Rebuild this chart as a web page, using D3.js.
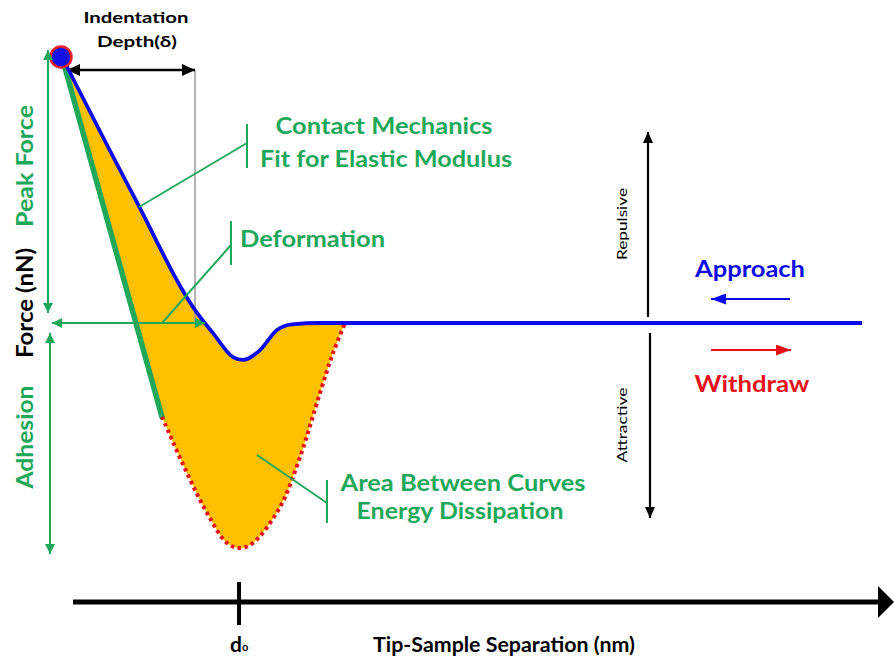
<!DOCTYPE html>
<html>
<head>
<meta charset="utf-8">
<script src="https://cdn.jsdelivr.net/npm/d3@7"></script>
<style>
  html, body { margin: 0; padding: 0; background: #ffffff; }
  svg { display: block; }
  text { font-family: Lato, "Open Sans", "DejaVu Sans", sans-serif; }
</style>
</head>
<body>
<svg id="chart" width="894" height="661"></svg>
<script>
// Approach curve: tip-sample separation (nm) vs force (nN)
const approachSep   = [0, 3.6, 6.75, 7.55, 8.55, 9.05, 9.9, 10.75, 11.5, 12.9, 40];
const approachForce = [10, 4.75, 0.38, -0.38, -1.28, -1.39, -1.02, -0.26, -0.05, 0, 0];

// Withdraw curve (adhesive part, dotted)
const withdrawSep   = [5.0, 6.25, 7.25, 8.25, 8.9, 9.55, 10.9, 11.9, 12.9, 13.55, 14.15];
const withdrawForce = [-3.53, -5.64, -7.14, -8.27, -8.46, -8.27, -6.92, -5.04, -2.63, -1.13, 0];

// Contact mechanics fit (straight segment on the withdraw curve)
const fitSep   = [0, 5.0];
const fitForce = [10, -3.53];

// Separation axis tick
const sepTicks = [8.85];

const GREEN = "#20a85a", BLUE = "#0a0ae8", RED = "#e3121b", ORANGE = "#ffc000";

const svg = d3.select("#chart");
const x = d3.scaleLinear().domain([0, 40]).range([62, 862]);
const y = d3.scaleLinear().domain([-10, 10]).range([589, 57]);

const zip = (a, b) => a.map((v, i) => [v, b[i]]);
const approachPts = zip(approachSep, approachForce);
const withdrawPts = zip(withdrawSep, withdrawForce);
const fitPts = zip(fitSep, fitForce);

const approachLine = d3.line().x(d => x(d[0])).y(d => y(d[1])).curve(d3.curveMonotoneX);
const withdrawLine = d3.line().x(d => x(d[0])).y(d => y(d[1])).curve(d3.curveCatmullRom.alpha(0.5));
const straight = d3.line().x(d => x(d[0])).y(d => y(d[1]));

// Arrowhead markers
const defs = svg.append("defs");
function marker(id, color, len, wid) {
  defs.append("marker")
    .attr("id", id).attr("viewBox", `0 0 ${len} ${wid}`)
    .attr("refX", len).attr("refY", wid / 2)
    .attr("markerWidth", len).attr("markerHeight", wid)
    .attr("markerUnits", "userSpaceOnUse")
    .attr("orient", "auto-start-reverse")
    .append("path").attr("d", `M0,0L${len},${wid / 2}L0,${wid}Z`).attr("fill", color);
}
marker("gArrow", GREEN, 10, 10);
marker("kArrow", "#000", 13, 12);
marker("kArrowS", "#000", 11, 10);
marker("bArrow", BLUE, 15, 11);
marker("rArrow", RED, 15, 11);

// Area between curves (energy dissipation)
const withdrawEnd = withdrawPts[withdrawPts.length - 1];
const fillTop = approachPts.filter(p => p[0] < withdrawEnd[0]).concat([withdrawEnd]);
const fillPath = approachLine(fillTop) +
  withdrawLine(withdrawPts.slice().reverse()).replace(/^M/, "L") + "Z";
svg.append("path").attr("d", fillPath).attr("fill", ORANGE);

// Indentation depth guide
const depthX = 195;
svg.append("line").attr("x1", depthX).attr("x2", depthX).attr("y1", 70).attr("y2", y(0))
  .attr("stroke", "#9a9a9a").attr("stroke-width", 1.5);
svg.append("line").attr("x1", 67).attr("x2", depthX).attr("y1", 70).attr("y2", 70)
  .attr("stroke", "#000").attr("stroke-width", 2.5)
  .attr("marker-start", "url(#kArrow)").attr("marker-end", "url(#kArrow)");

// Contact mechanics fit line
svg.append("path").attr("d", straight(fitPts)).attr("fill", "none")
  .attr("stroke", GREEN).attr("stroke-width", 5.5).attr("stroke-linecap", "round");

// Withdraw curve
svg.append("path").attr("d", withdrawLine(withdrawPts)).attr("fill", "none")
  .attr("stroke", RED).attr("stroke-width", 4).attr("stroke-dasharray", "3.5,3.5");

// Approach curve
svg.append("path").attr("d", approachLine(approachPts)).attr("fill", "none")
  .attr("stroke", BLUE).attr("stroke-width", 3.8);

// Peak force point
svg.append("circle").attr("cx", x(approachSep[0]) - 1).attr("cy", y(approachForce[0]))
  .attr("r", 10.5).attr("fill", "#1010e6").attr("stroke", "#e8202a").attr("stroke-width", 2.5);

// Green measurement arrows
function gArrow(x1, y1, x2, y2) {
  svg.append("line").attr("x1", x1).attr("y1", y1).attr("x2", x2).attr("y2", y2)
    .attr("stroke", GREEN).attr("stroke-width", 2)
    .attr("marker-start", "url(#gArrow)").attr("marker-end", "url(#gArrow)");
}
gArrow(48, 50, 48, 313);          // peak force
gArrow(50, 333, 50, 554);         // adhesion
gArrow(52, y(0), 205, y(0));      // deformation

// Leader lines with end bars
function leader(x1, y1, x2, y2, barTop, barBottom) {
  svg.append("line").attr("x1", x1).attr("y1", y1).attr("x2", x2).attr("y2", y2)
    .attr("stroke", GREEN).attr("stroke-width", 2);
  svg.append("line").attr("x1", x2).attr("y1", barTop).attr("x2", x2).attr("y2", barBottom)
    .attr("stroke", GREEN).attr("stroke-width", 2);
}
leader(139, 207, 247, 143, 124, 168);
leader(162, y(0), 231, 245, 221, 265);
leader(257, 455, 327, 503, 480, 523);

// Repulsive / attractive arrows
svg.append("line").attr("x1", 648).attr("x2", 648).attr("y1", 317).attr("y2", 132)
  .attr("stroke", "#000").attr("stroke-width", 2.2).attr("marker-end", "url(#kArrowS)");
svg.append("line").attr("x1", 650).attr("x2", 650).attr("y1", 333).attr("y2", 518)
  .attr("stroke", "#000").attr("stroke-width", 2.2).attr("marker-end", "url(#kArrowS)");

// Approach / withdraw direction arrows
svg.append("line").attr("x1", 790).attr("x2", 711).attr("y1", 299).attr("y2", 299)
  .attr("stroke", BLUE).attr("stroke-width", 2).attr("marker-end", "url(#bArrow)");
svg.append("line").attr("x1", 711).attr("x2", 791).attr("y1", 350).attr("y2", 350)
  .attr("stroke", RED).attr("stroke-width", 2).attr("marker-end", "url(#rArrow)");

// Separation axis
const axisY = 602;
svg.append("line").attr("x1", 73).attr("x2", 880).attr("y1", axisY).attr("y2", axisY)
  .attr("stroke", "#000").attr("stroke-width", 5);
svg.append("path").attr("d", `M878,${axisY - 16}L894,${axisY}L878,${axisY + 16}Z`).attr("fill", "#000");
sepTicks.forEach(t => {
  svg.append("line").attr("x1", x(t)).attr("x2", x(t)).attr("y1", 582).attr("y2", 625)
    .attr("stroke", "#000").attr("stroke-width", 4);
  const lbl = svg.append("text").attr("x", x(t) - 9).attr("y", 652)
    .attr("font-size", 21).attr("font-weight", "bold").attr("fill", "#000").text("d");
  lbl.append("tspan").attr("font-size", 11).attr("dy", -1).text("o");
});

// Text labels
function label(txt, px, py, opts) {
  const o = Object.assign({ size: 21, weight: "bold", color: GREEN, anchor: "middle", rotate: 0 }, opts || {});
  const t = svg.append("text")
    .attr("font-size", o.size).attr("font-weight", o.weight).attr("fill", o.color)
    .attr("text-anchor", o.anchor).text(txt);
  if (o.rotate) t.attr("transform", `translate(${px},${py}) rotate(${o.rotate})`);
  else t.attr("x", px).attr("y", py);
  if (o.len) t.attr("textLength", o.len).attr("lengthAdjust", "spacingAndGlyphs");
  return t;
}
label("Indentation", 136, 23, { size: 16, color: "#000", len: 105 });
label("Depth(δ)", 137, 47, { size: 16, color: "#000", len: 80 });
label("Contact Mechanics", 384, 134, { size: 22, len: 217 });
label("Fit for Elastic Modulus", 386, 167, { size: 22, len: 252 });
label("Deformation", 240, 247, { size: 22, anchor: "start", len: 145 });
label("Area Between Curves", 463, 491, { size: 22, len: 245 });
label("Energy Dissipation", 460, 519, { size: 22, len: 207 });
label("Approach", 750, 277, { size: 22, color: BLUE, len: 110 });
label("Withdraw", 752, 392, { size: 22, color: RED, len: 115 });
label("Peak Force", 33, 166, { size: 22, rotate: -90, len: 122 });
label("Force (nN)", 33, 303, { size: 22, color: "#000", rotate: -90, len: 110 });
label("Adhesion", 33, 437, { size: 22, rotate: -90, len: 103 });
label("Repulsive", 627, 224, { size: 13, weight: "normal", color: "#000", rotate: -90, len: 72 });
label("Attractive", 627, 425, { size: 13, weight: "normal", color: "#000", rotate: -90, len: 75 });
label("Tip-Sample Separation (nm)", 373, 652, { size: 21, color: "#000", anchor: "start", len: 262 });
</script>
</body>
</html>
